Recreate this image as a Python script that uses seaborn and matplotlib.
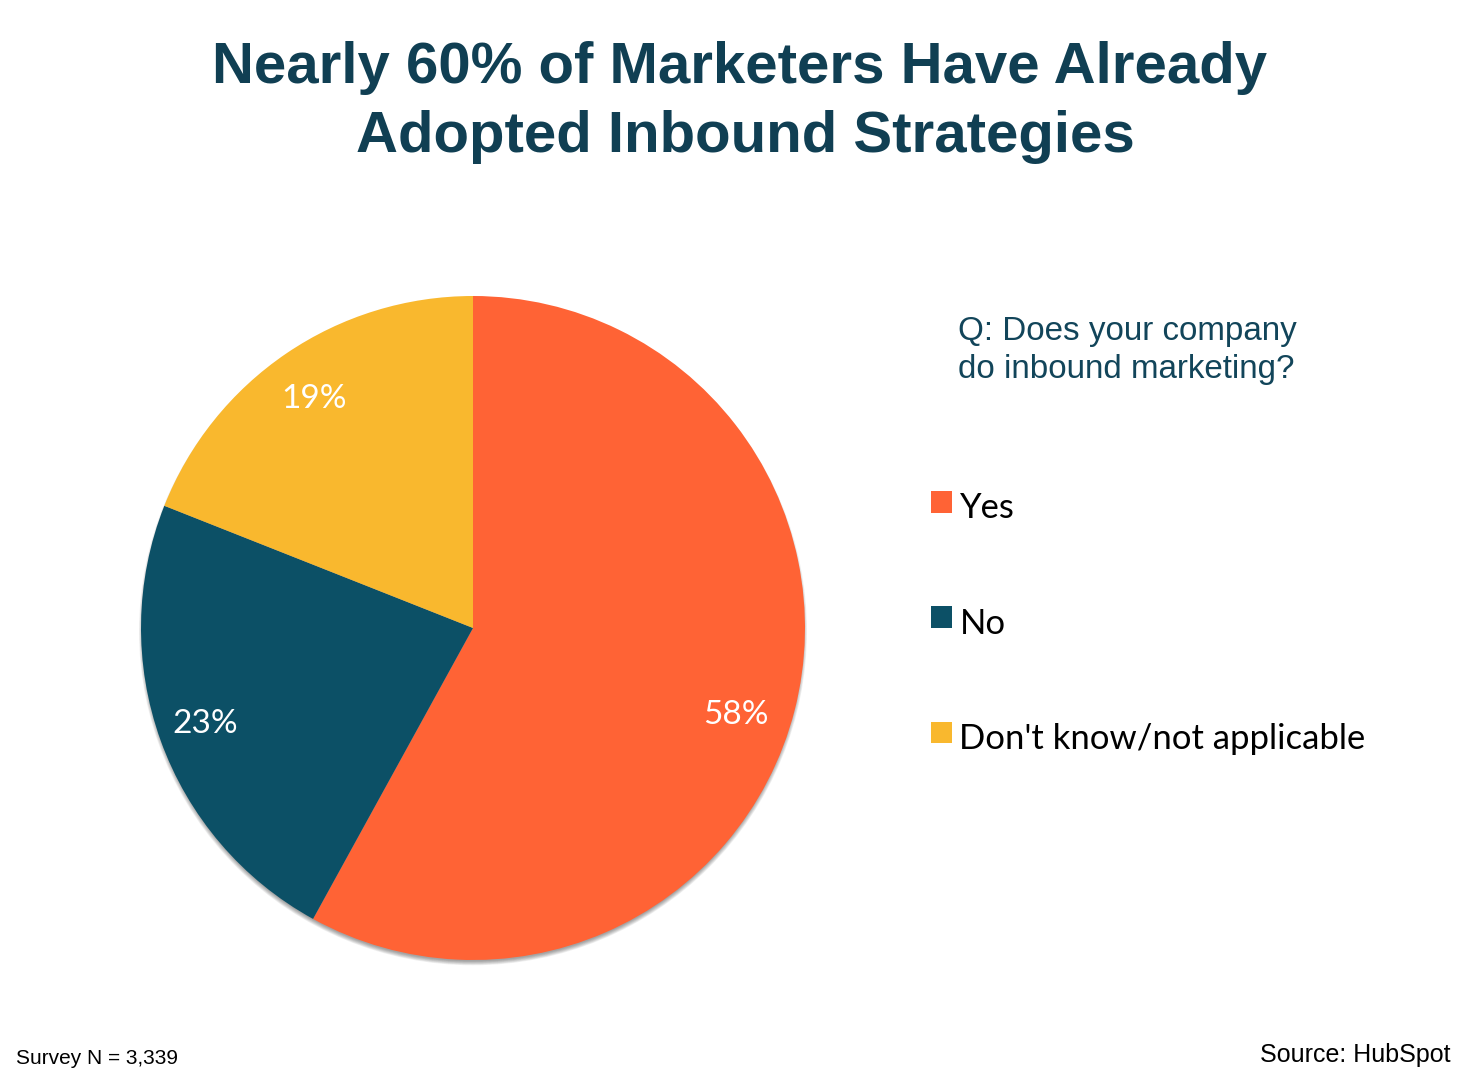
# Inbound marketing adoption pie

import matplotlib.pyplot as plt
import seaborn as sns

answers = ['Yes', 'No', "Don't know/not applicable"]
shares = [58, 23, 19]
colors = ['#FF6335', '#0C5066', '#F9B82E']
title_lines = ['Nearly 60% of Marketers Have Already', 'Adopted Inbound Strategies']
question = 'Q: Does your company\ndo inbound marketing?'

sns.set_theme(style='white')
plt.rcParams['font.family'] = ['Liberation Sans', 'DejaVu Sans']

W, H = 1473, 1076
fig = plt.figure(figsize=(W / 100, H / 100), dpi=100)

# pie centre 473,628 radius 332 px, axes a bit bigger so the shadow fits
side = 332 * 1.1
ax = fig.add_axes([(473 - side) / W, 1 - (628 + side) / H, 2 * side / W, 2 * side / H])
wedges, _, pct = ax.pie(shares, colors=colors, startangle=90, counterclock=False,
                        radius=1, autopct='%d%%', pctdistance=0.85,
                        wedgeprops={'linewidth': 0},
                        textprops={'color': 'white', 'fontsize': 24, 'family': 'Lato'})
ax.set_xlim(-1.1, 1.1)
ax.set_ylim(-1.1, 1.1)

# soft shadow under the pie, stacked circles instead of a blur
for r in [0.994, 0.996, 0.998, 1.0, 1.002, 1.004, 1.006]:
    ax.add_patch(plt.Circle((0, -0.01), r, color='black', alpha=0.06, lw=0, zorder=0))

# label nudges, powerpoint doesn't put them exactly on the mid angle
for t, dx, dy in zip(pct, [-0.03, -0.006, 0], [-0.05, 0, -0.012]):
    x0, y0 = t.get_position()
    t.set_position((x0 + dx, y0 + dy))

for line, x, y in zip(title_lines, [740, 745.5], [83, 152]):
    fig.text(x / W, 1 - y / H, line, ha='center', va='baseline', color='#103F53',
             fontsize=41.9, fontweight='bold')
fig.text(958 / W, 1 - 350.5 / H, question, ha='left', va='center', color='#12455A',
         fontsize=23.9, linespacing=1.33)

leg = fig.legend(wedges, answers, loc='center left', bbox_to_anchor=(900 / W, 1 - 619.5 / H),
                 frameon=False, prop={'family': 'Lato', 'size': 24.9},
                 handlelength=0.6, handleheight=0.6, handletextpad=0.22, labelspacing=2.405,
                 labelcolor='black')
for t in leg.get_texts():
    t.set_y(-4)

fig.text(16 / W, 1 - 1059 / H, 'Survey N = 3,339', ha='left', va='center', color='black', fontsize=15)
fig.text(1450 / W, 1 - 1055 / H, 'Source: HubSpot', ha='right', va='center', color='black', fontsize=18)

fig.savefig('out.png', dpi=100)
